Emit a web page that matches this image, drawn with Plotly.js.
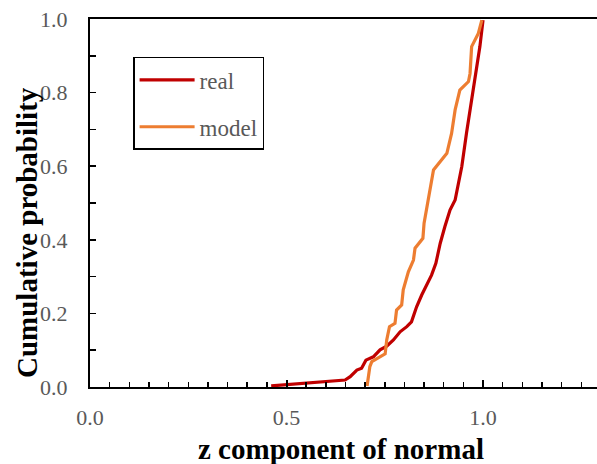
<!DOCTYPE html>
<html>
<head>
<meta charset="utf-8">
<script src="https://cdn.plot.ly/plotly-3.0.1.min.js"></script>
<style>html,body{margin:0;padding:0;background:#fff;}#chart{width:597px;height:464px;}</style>
</head>
<body>
<div id="chart"></div>
<script>
// Cumulative distribution of the z component of the normal
const realZ = [0.461, 0.649, 0.662, 0.679, 0.691, 0.702, 0.721, 0.738, 0.755, 0.772, 0.789, 0.806, 0.818, 0.831, 0.844, 0.857, 0.869, 0.880, 0.891, 0.903, 0.916, 0.929, 0.937, 0.946, 0.958, 0.971, 0.980, 0.992, 1.000];
const realP = [0.003, 0.019, 0.028, 0.046, 0.051, 0.073, 0.082, 0.101, 0.111, 0.128, 0.150, 0.164, 0.177, 0.218, 0.250, 0.277, 0.304, 0.336, 0.390, 0.436, 0.481, 0.508, 0.554, 0.599, 0.690, 0.780, 0.843, 0.925, 0.997];
const modelZ = [0.705, 0.712, 0.717, 0.751, 0.755, 0.762, 0.776, 0.780, 0.793, 0.797, 0.810, 0.823, 0.827, 0.847, 0.850, 0.857, 0.865, 0.874, 0.908, 0.920, 0.929, 0.941, 0.963, 0.967, 0.971, 0.988, 0.997];
const modelP = [0.003, 0.055, 0.069, 0.090, 0.128, 0.164, 0.173, 0.209, 0.223, 0.264, 0.313, 0.345, 0.377, 0.404, 0.445, 0.490, 0.535, 0.590, 0.635, 0.689, 0.753, 0.807, 0.830, 0.852, 0.925, 0.961, 0.997];
const seriesNames = ["real", "model"];
const xTitle = "z component of normal";
const yTitle = "Cumulative probability";

const serif = "Liberation Serif";
const traces = [
  {x: realZ, y: realP, name: seriesNames[0], mode: "lines", legendgroup: "a",
   line: {color: "#C00000", width: 3.2}},
  {x: modelZ, y: modelP, name: seriesNames[1], mode: "lines", legendgroup: "b",
   line: {color: "#ED7D31", width: 3.2}}
];
const layout = {
  width: 597, height: 464,
  margin: {l: 90, r: 0, t: 19, b: 77, pad: 0},
  paper_bgcolor: "#fff", plot_bgcolor: "#fff",
  font: {family: serif, color: "#595959", size: 22},
  showlegend: true,
  legend: {x: 0.085, y: 0.897, xanchor: "left", yanchor: "top",
    bgcolor: "#fff", bordercolor: "#000", borderwidth: 1.5,
    traceorder: "grouped", tracegroupgap: 14, itemwidth: 55,
    font: {family: serif, size: 23, color: "#595959"}},
  xaxis: {range: [0, 1.29], dtick: 0.5, tick0: 0, tickformat: ".1f",
    showgrid: false, zeroline: false, showline: true, linecolor: "#000", linewidth: 2,
    mirror: true, ticks: "inside", ticklen: 7, tickwidth: 2, tickcolor: "#000",
    ticklabelstandoff: 10,
    minor: {dtick: 0.05, ticks: "inside", ticklen: 5, tickwidth: 1.5, tickcolor: "#000", showgrid: false},
    tickfont: {family: serif, size: 22, color: "#595959"}},
  yaxis: {range: [0, 1], dtick: 0.2, tick0: 0, tickformat: ".1f",
    showgrid: false, zeroline: false, showline: true, linecolor: "#000", linewidth: 2,
    ticks: "inside", ticklen: 6, tickwidth: 1.5, tickcolor: "#000",
    ticklabelstandoff: 16,
    minor: {dtick: 0.1, ticks: "inside", ticklen: 6, tickwidth: 1.5, tickcolor: "#000", showgrid: false},
    tickfont: {family: serif, size: 22, color: "#595959"}},
  annotations: [
    {text: "<b>" + xTitle + "</b>", xref: "paper", yref: "paper", x: (341 - 90) / 507, y: -62 / 368,
     xanchor: "center", yanchor: "middle", showarrow: false,
     font: {family: serif, size: 29, color: "#000"}},
    {text: "<b>" + yTitle + "</b>", xref: "paper", yref: "paper", x: -63 / 507, y: (387 - 233) / 368,
     xanchor: "center", yanchor: "middle", showarrow: false, textangle: -90,
     font: {family: serif, size: 29, color: "#000"}}
  ]
};
Plotly.newPlot("chart", traces, layout, {displayModeBar: false, staticPlot: true});
</script>
</body>
</html>
